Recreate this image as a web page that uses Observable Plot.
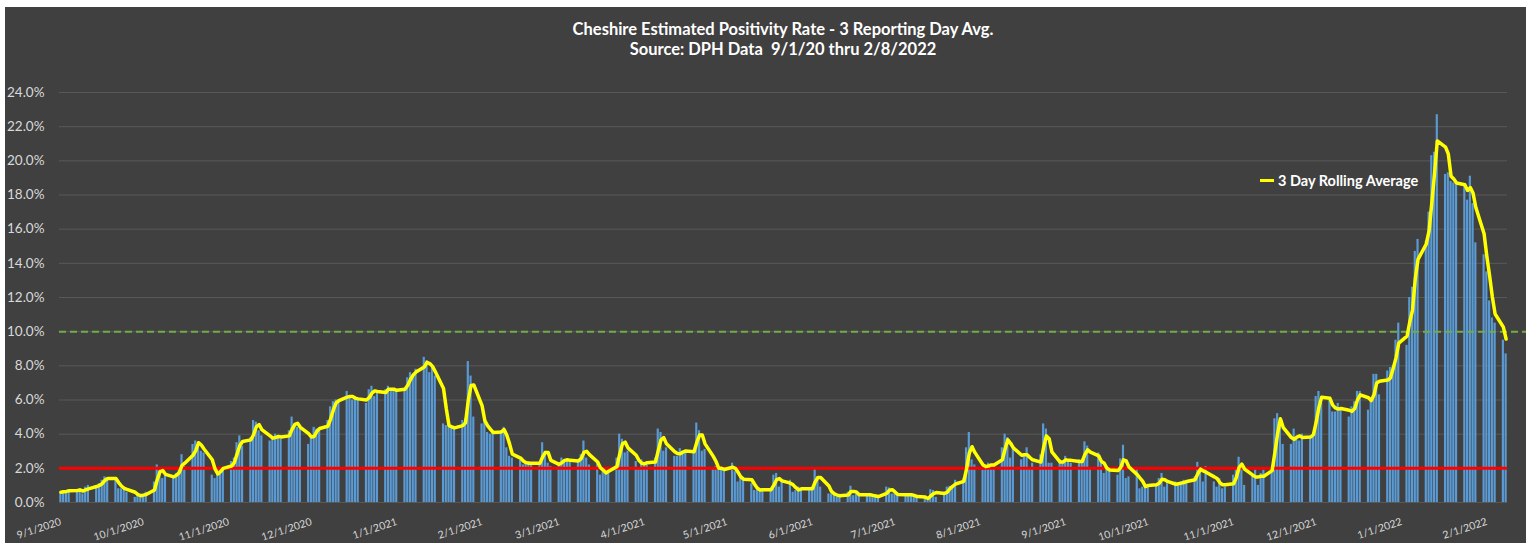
<!DOCTYPE html>
<html><head><meta charset="utf-8">
<script src="https://cdn.jsdelivr.net/npm/d3@7"></script>
<script src="https://cdn.jsdelivr.net/npm/@observablehq/plot@0.6"></script>
<style>
html,body{margin:0;padding:0;background:#fff;}
#chart{position:absolute;left:5px;top:7px;width:1521px;height:536px;background:#404040;overflow:hidden;font-family:Lato,"Open Sans",sans-serif;}
#title{position:absolute;left:54px;width:1448px;top:12px;text-align:center;color:#fff;font-weight:bold;font-size:16.5px;line-height:20px;}
#legend{position:absolute;left:1255px;top:165px;color:#fff;font-weight:bold;font-size:14.5px;display:flex;align-items:center;white-space:nowrap;}
#legend .sw{display:inline-block;width:14px;height:3px;background:#ffff00;margin-right:4px;}
#plot{position:absolute;left:0;top:0;}
</style></head>
<body>
<div id="chart">
  <div id="plot"></div>
  <div id="title">Cheshire Estimated Positivity Rate - 3 Reporting Day Avg.<br>Source: DPH Data&nbsp; 9/1/20 thru 2/8/2022</div>
  <div id="legend"><span class="sw"></span>3 Day Rolling Average</div>
</div>
<script>
// Daily positivity (%) for each weekday (reporting day) of each month
const sep2020 = [0.6,0.65,0.7,0.7, 0.7,0.8,0.5,0.9,1.0, 0.9,1.1,1.3,1.5,1.4, 1.3,0.8,0.8,0.9,0.6, 0.3,0.5,0.4];
const oct2020 = [0.4,0.6, 1.2,2.2,2.0,1.4,1.55, 1.55,1.7,2.0,2.8,2.1, 3.4,3.6,3.5,3.0,2.9, 1.6,1.4,2.0,2.0,2.0];
const nov2020 = [2.4,2.6,3.5,3.9,3.3, 3.8,4.8,4.7,4.2,3.9, 3.6,3.8,4.0,3.8,3.7, 4.2,5.0,4.5,4.4,4.3, 3.4];
const dec2020 = [3.8,4.4,4.3,4.3, 4.8,5.6,5.9,6.0,6.0, 6.5,6.1,6.0,6.2,6.0, 5.8,6.6,6.8,6.2,6.5, 6.6,6.8,6.5,6.6];
const jan2021 = [6.6, 6.7,7.3,7.6,7.5,7.8, 8.5,8.3,7.6,8.0,7.4, 4.6,4.5,4.4,4.4,4.3, 4.8,4.9,8.25,7.4,5.0];
const feb2021 = [4.6,4.8,4.1,4.0,4.2, 4.2,4.4,3.2,2.7,2.6, 2.5,2.2,2.3,2.4,2.2, 2.3,3.5,3.0,2.3,2.1];
const mar2021 = [2.3,2.6,2.5,2.4,2.5, 2.4,2.8,3.6,2.6,2.2, 2.3,1.6,1.8,1.8,1.9, 2.6,4.0,3.7,2.9,3.0, 2.4,2.0,2.5];
const apr2021 = [2.3,2.2, 2.6,4.3,4.1,3.0,3.2, 2.7,2.7,3.15,3.0,2.9, 3.0,4.65,4.2,3.0,3.1, 2.0,2.1,1.9,2.0,1.9];
const may2021 = [2.3,1.8,1.2,1.5,1.4, 1.1,0.7,0.7,0.8,0.75, 0.7,1.6,1.7,0.9,1.2, 1.3,0.6,0.7,0.9,0.8, 0.7];
const jun2021 = [0.9,2.0,1.5,0.9, 0.5,0.5,0.5,0.3,0.4, 0.6,0.95,0.4,0.5,0.45, 0.4,0.5,0.35,0.3,0.4, 0.9,0.85,0.5];
const jul2021 = [0.5,0.4, 0.45,0.5,0.4,0.35,0.3, 0.3,0.1,0.75,0.7,0.3, 0.6,0.9,0.95,1.0,1.3, 1.4,3.2,4.1,2.5,2.2];
const aug2021 = [1.9,2.2,2.3,2.1,2.2, 3.2,4.0,3.8,2.6,3.2, 2.5,2.7,3.2,2.0,2.3, 2.8,4.6,4.3,2.3,2.3, 2.5,2.3];
const sep2021 = [2.7,2.4,2.3, 2.5,2.4,3.55,3.3,2.0, 2.9,2.3,1.7,2.0,2.0, 1.6,2.55,3.35,1.4,1.5, 2.0,0.8,0.9,1.1];
const oct2021 = [1.0, 1.0,1.4,1.7,0.9,1.1, 1.2,1.0,1.2,1.3,1.2, 1.5,2.35,2.0,1.2,2.1, 1.2,0.9,1.4,0.8,0.9];
const nov2021 = [1.6,1.9,2.65,2.2,1.0, 1.6,1.9,1.0,1.7,1.9, 2.0,4.9,5.2,4.6,3.4, 3.4,4.3,3.8,3.6,4.0, 3.9,4.0];
const dec2021 = [6.2,6.5,5.8, 6.0,5.3,5.3,5.8,5.4, 5.0,5.6,5.9,6.5,6.5, 5.4,6.0,7.5,7.5,6.3, 7.7,7.9,8.0,9.5,10.5];
const jan2022 = [9.2,12.0,12.6,14.7,15.4, 15.3,17.0,20.3,20.5,22.7, 19.2,19.3,18.8,18.7,18.6, 18.5,17.7,19.1,17.5,15.2, 14.5];
const feb2022 = [13.5,11.8,10.8,10.5, 9.5,8.7];

const monthKeys = ["2020-09","2020-10","2020-11","2020-12","2021-01","2021-02","2021-03","2021-04","2021-05","2021-06","2021-07","2021-08","2021-09","2021-10","2021-11","2021-12","2022-01","2022-02"];
const monthValues = [sep2020,oct2020,nov2020,dec2020,jan2021,feb2021,mar2021,apr2021,may2021,jun2021,jul2021,aug2021,sep2021,oct2021,nov2021,dec2021,jan2022,feb2022];

const xTickLabels = ["9/1/2020","10/1/2020","11/1/2020","12/1/2020","1/1/2021","2/1/2021","3/1/2021","4/1/2021","5/1/2021","6/1/2021","7/1/2021","8/1/2021","9/1/2021","10/1/2021","11/1/2021","12/1/2021","1/1/2022","2/1/2022"];
const yTicks = [0,2,4,6,8,10,12,14,16,18,20,22,24];
const yTickLabels = ["0.0%","2.0%","4.0%","6.0%","8.0%","10.0%","12.0%","14.0%","16.0%","18.0%","20.0%","22.0%","24.0%"];
const startDate = "2020-09-01", endDate = "2022-02-08";
const threshold = 2, highThreshold = 10;

const parse = d3.utcParse("%m/%d/%Y");
const rows = [];
monthKeys.forEach((m, mi) => {
  const start = new Date(m + "-01T00:00:00Z");
  const days = d3.utcDay.range(start, d3.utcMonth.offset(start, 1)).filter(d => d.getUTCDay() > 0 && d.getUTCDay() < 6);
  monthValues[mi].forEach((v, i) => {
    const d = days[i];
    rows.push({date: d, end: d3.utcDay.offset(d, 1), mid: d3.utcHour.offset(d, 12), value: v});
  });
});
const tickDates = xTickLabels.map(s => d3.utcHour.offset(parse(s), 12));
const labelOf = new Map(tickDates.map((d, i) => [+d, xTickLabels[i]]));
const yLabelOf = new Map(yTicks.map((t, i) => [t, yTickLabels[i]]));

const chart = Plot.plot({
  width: 1521, height: 536,
  marginLeft: 54, marginRight: 19, marginTop: 85, marginBottom: 41,
  style: {background: "transparent", color: "#d9d9d9", fontFamily: "Lato, 'Open Sans', sans-serif"},
  x: {type: "utc", domain: [new Date(startDate), d3.utcDay.offset(new Date(endDate), 1)]},
  y: {domain: [0, 24]},
  marks: [
    Plot.gridY(yTicks, {stroke: "#585858", strokeOpacity: 1, strokeWidth: 1}),
    Plot.axisY(yTicks, {tickSize: 0, tickPadding: 15, tickFormat: d => yLabelOf.get(d), fontSize: 13.5, fill: "#d9d9d9", label: null}),
    Plot.axisX(tickDates, {tickSize: 0, tickPadding: 19, tickRotate: -18, tickFormat: d => labelOf.get(+d), fontSize: 10.5, fill: "#d9d9d9", label: null}),
    Plot.rectY(rows, {x1: "date", x2: "end", y: "value", fill: "#5b9bd5", insetLeft: 0.3, insetRight: 0.3}),
    Plot.ruleY([threshold], {stroke: "#ff0000", strokeWidth: 3}),
    Plot.ruleY([highThreshold], {stroke: "#70ad47", strokeWidth: 2, strokeDasharray: "7,4", insetRight: -19}),
    Plot.lineY(rows, Plot.windowY({k: 3, anchor: "end"}, {x: "mid", y: "value", stroke: "#ffff00", strokeWidth: 3.5, strokeLinejoin: "round"}))
  ]
});
document.getElementById("plot").appendChild(chart);
</script>
</body></html>
